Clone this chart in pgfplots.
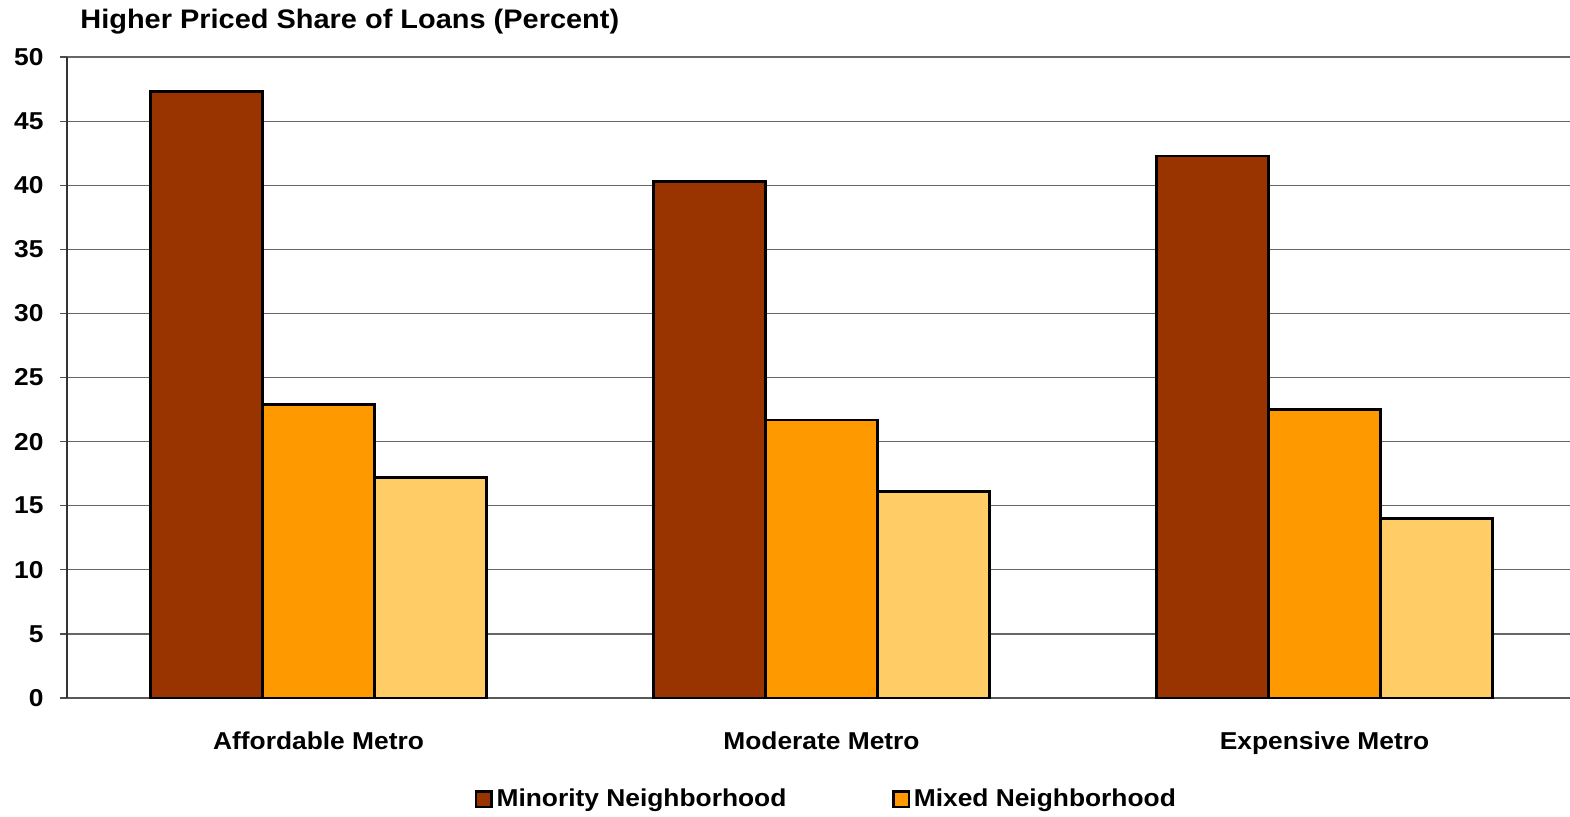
\documentclass[border=0pt]{standalone}
\usepackage{pgfplots}
\pgfplotsset{compat=1.18}
\usepackage{fontspec}
\setmainfont[FakeStretch=1.08]{Liberation Sans}
\definecolor{cMin}{HTML}{993300}
\definecolor{cMix}{HTML}{FF9900}
\definecolor{cWht}{HTML}{FFCC66}
\begin{document}
\fontsize{12.2pt}{14pt}\selectfont\bfseries
\begin{tikzpicture}
\useasboundingbox (0pt,0pt) rectangle (785pt,408pt);
\clip (0pt,0pt) rectangle (785pt,408pt);
\node[anchor=west,inner sep=0pt,font=\fontsize{13.4pt}{15pt}\selectfont\bfseries] at (40pt,397pt) {Higher Priced Share of Loans (Percent)};
\begin{axis}[
  at={(33.5pt,59pt)}, anchor=south west,
  scale only axis, width=754.5pt, height=320.5pt,
  ybar=0pt, bar width=56pt,
  xmin=-0.5, xmax=2.5, ymin=0, ymax=50,
  ytick={0,5,...,50},
  xtick={0,1,2},
  xticklabels={Affordable Metro, Moderate Metro, Expensive Metro},
  x tick style={draw=none},
  extra x ticks={-0.5,0.5,1.5,2.5},
  extra x tick labels={},
  extra x tick style={major tick length=3.5pt, tick align=outside, tick style={draw=black!70, line width=0.6pt}, grid=none},
  y tick style={draw=black!70, line width=0.6pt},
  major tick length=3.5pt, tick align=outside,
  ymajorgrids, grid style={draw=black!60, line width=0.6pt},
  axis x line*=bottom, axis y line*=left,
  x axis line style={draw=black!65, line width=0.8pt},
  y axis line style={draw=black!80, line width=0.8pt},
  axis line style={-},
  /pgf/number format/assume math mode=true,
  ticklabel style={font=\fontsize{12.2pt}{14pt}\selectfont\bfseries},
  yticklabel style={xshift=-4pt},
  xticklabel style={yshift=-9pt},
  legend style={at={(0.504,-0.1576)}, anchor=center, draw=none, fill=none,
    legend columns=2, font=\fontsize{12.2pt}{14pt}\selectfont\bfseries,
    /tikz/every even column/.append style={column sep=51pt}, inner sep=0pt},
  legend image code/.code={\draw[#1, line width=1.1pt, draw=black] (0pt,-3.8pt) rectangle (7.6pt,3.8pt);},
  legend entries={Minority Neighborhood, Mixed Neighborhood},
  every axis plot/.append style={draw=black, line width=1.2pt},
]
\addplot[fill=cMin] coordinates {(0,47.3) (1,40.3) (2,42.3)};
\addplot[fill=cMix] coordinates {(0,22.9) (1,21.7) (2,22.5)};
\addplot[fill=cWht] coordinates {(0,17.2) (1,16.1) (2,14.0)};
\end{axis}
\end{tikzpicture}
\end{document}
